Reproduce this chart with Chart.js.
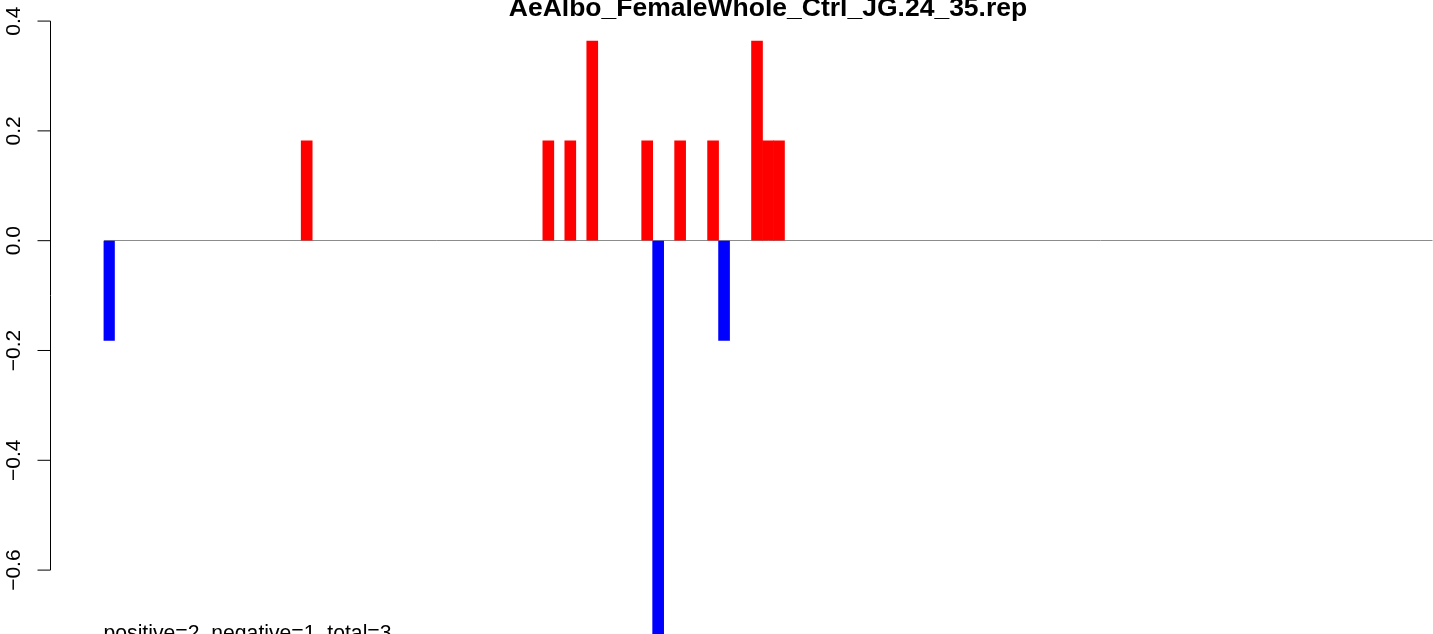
<!DOCTYPE html>
<html>
<head>
<meta charset="utf-8">
<title>AeAlbo_FemaleWhole_Ctrl_JG.24_35.rep</title>
<script src="https://cdn.jsdelivr.net/npm/chart.js@4.4.0/dist/chart.umd.min.js"></script>
<style>
  html, body { margin: 0; padding: 0; background: #fff; }
  #wrap { position: relative; width: 1433px; height: 634px; }
</style>
</head>
<body>
<div id="wrap"><canvas id="repChart"></canvas></div>
<script>
const chartTitle = 'AeAlbo_FemaleWhole_Ctrl_JG.24_35.rep';
const summaryText = 'positive=2, negative=1, total=3';

// one score per bin (121 bins), empty bins are 0
const scores = [
    -0.1818, 0, 0, 0, 0, 0, 0, 0, 0, 0,
    0, 0, 0, 0, 0, 0, 0, 0, 0.1818, 0,
    0, 0, 0, 0, 0, 0, 0, 0, 0, 0,
    0, 0, 0, 0, 0, 0, 0, 0, 0, 0,
    0.1818, 0, 0.1818, 0, 0.3636, 0, 0, 0, 0, 0.1818,
    -0.7273, 0, 0.1818, 0, 0, 0.1818, -0.1818, 0, 0, 0.3636,
    0.1818, 0.1818, 0, 0, 0, 0, 0, 0, 0, 0,
    0, 0, 0, 0, 0, 0, 0, 0, 0, 0,
    0, 0, 0, 0, 0, 0, 0, 0, 0, 0,
    0, 0, 0, 0, 0, 0, 0, 0, 0, 0,
    0, 0, 0, 0, 0, 0, 0, 0, 0, 0,
    0, 0, 0, 0, 0, 0, 0, 0, 0, 0,
    0
];
const binLabels = scores.map((_, i) => String(i + 1));

const yTicks = [-0.6, -0.4, -0.2, 0, 0.2, 0.4];
const yTickLabels = ['\u22120.6', '\u22120.4', '\u22120.2', '0.0', '0.2', '0.4'];
const yMin = -0.7164;
const yMax = 0.4384;

const FONT = '"Liberation Sans", Arial, Helvetica, sans-serif';

// R style left axis (short axis line, outward ticks, rotated labels) + footnote
const rAxisPlugin = {
    id: 'rAxis',
    afterDraw(chart) {
        const { ctx, scales: { y } } = chart;
        const axisX = 50.5;
        const top = y.getPixelForValue(yTicks[yTicks.length - 1]);
        const bottom = y.getPixelForValue(yTicks[0]);
        ctx.save();
        ctx.strokeStyle = '#000';
        ctx.lineWidth = 1;
        ctx.beginPath();
        ctx.moveTo(axisX, top);
        ctx.lineTo(axisX, bottom);
        yTicks.forEach(v => {
            const py = y.getPixelForValue(v);
            ctx.moveTo(axisX - 13, py);
            ctx.lineTo(axisX, py);
        });
        ctx.stroke();

        ctx.fillStyle = '#000';
        ctx.font = '21px ' + FONT;
        ctx.textAlign = 'center';
        ctx.textBaseline = 'alphabetic';
        yTicks.forEach((v, i) => {
            ctx.save();
            ctx.translate(20, y.getPixelForValue(v));
            ctx.rotate(-Math.PI / 2);
            ctx.fillText(yTickLabels[i], 0, 0);
            ctx.restore();
        });

        ctx.font = '21.2px ' + FONT;
        ctx.textAlign = 'left';
        ctx.fillText(summaryText, chart.chartArea.left, 640);
        ctx.restore();
    }
};

new Chart(document.getElementById('repChart'), {
    type: 'bar',
    data: {
        labels: binLabels,
        datasets: [{
            // empty bins are left out so nothing is drawn for them
            data: scores.map(v => (v === 0 ? null : v)),
            backgroundColor: ctx => (ctx.raw < 0 ? '#0000FF' : '#FF0000'),
            borderWidth: 0,
            categoryPercentage: 1.0,
            barPercentage: 1.0,
        }]
    },
    options: {
        responsive: true,
        maintainAspectRatio: false,
        animation: false,
        events: [],
        layout: { padding: { left: 103.5, right: 0.5, top: 0, bottom: 0 } },
        scales: {
            x: { display: false },
            y: {
                min: yMin,
                max: yMax,
                border: { display: false },
                ticks: { display: false, stepSize: 0.2, includeBounds: false },
                grid: {
                    drawTicks: false,
                    lineWidth: 1,
                    color: ctx => (ctx.tick && Math.abs(ctx.tick.value) < 1e-9 ? '#8c8c8c' : 'rgba(0,0,0,0)'),
                }
            }
        },
        plugins: {
            legend: { display: false },
            tooltip: { enabled: false },
            title: {
                display: true,
                text: chartTitle,
                fullSize: false,
                color: '#000',
                font: { family: FONT, size: 26.5, weight: 'bold', lineHeight: 1 },
                padding: { top: -4.5, bottom: -22 },
            }
        }
    },
    plugins: [rAxisPlugin]
});
</script>
</body>
</html>
